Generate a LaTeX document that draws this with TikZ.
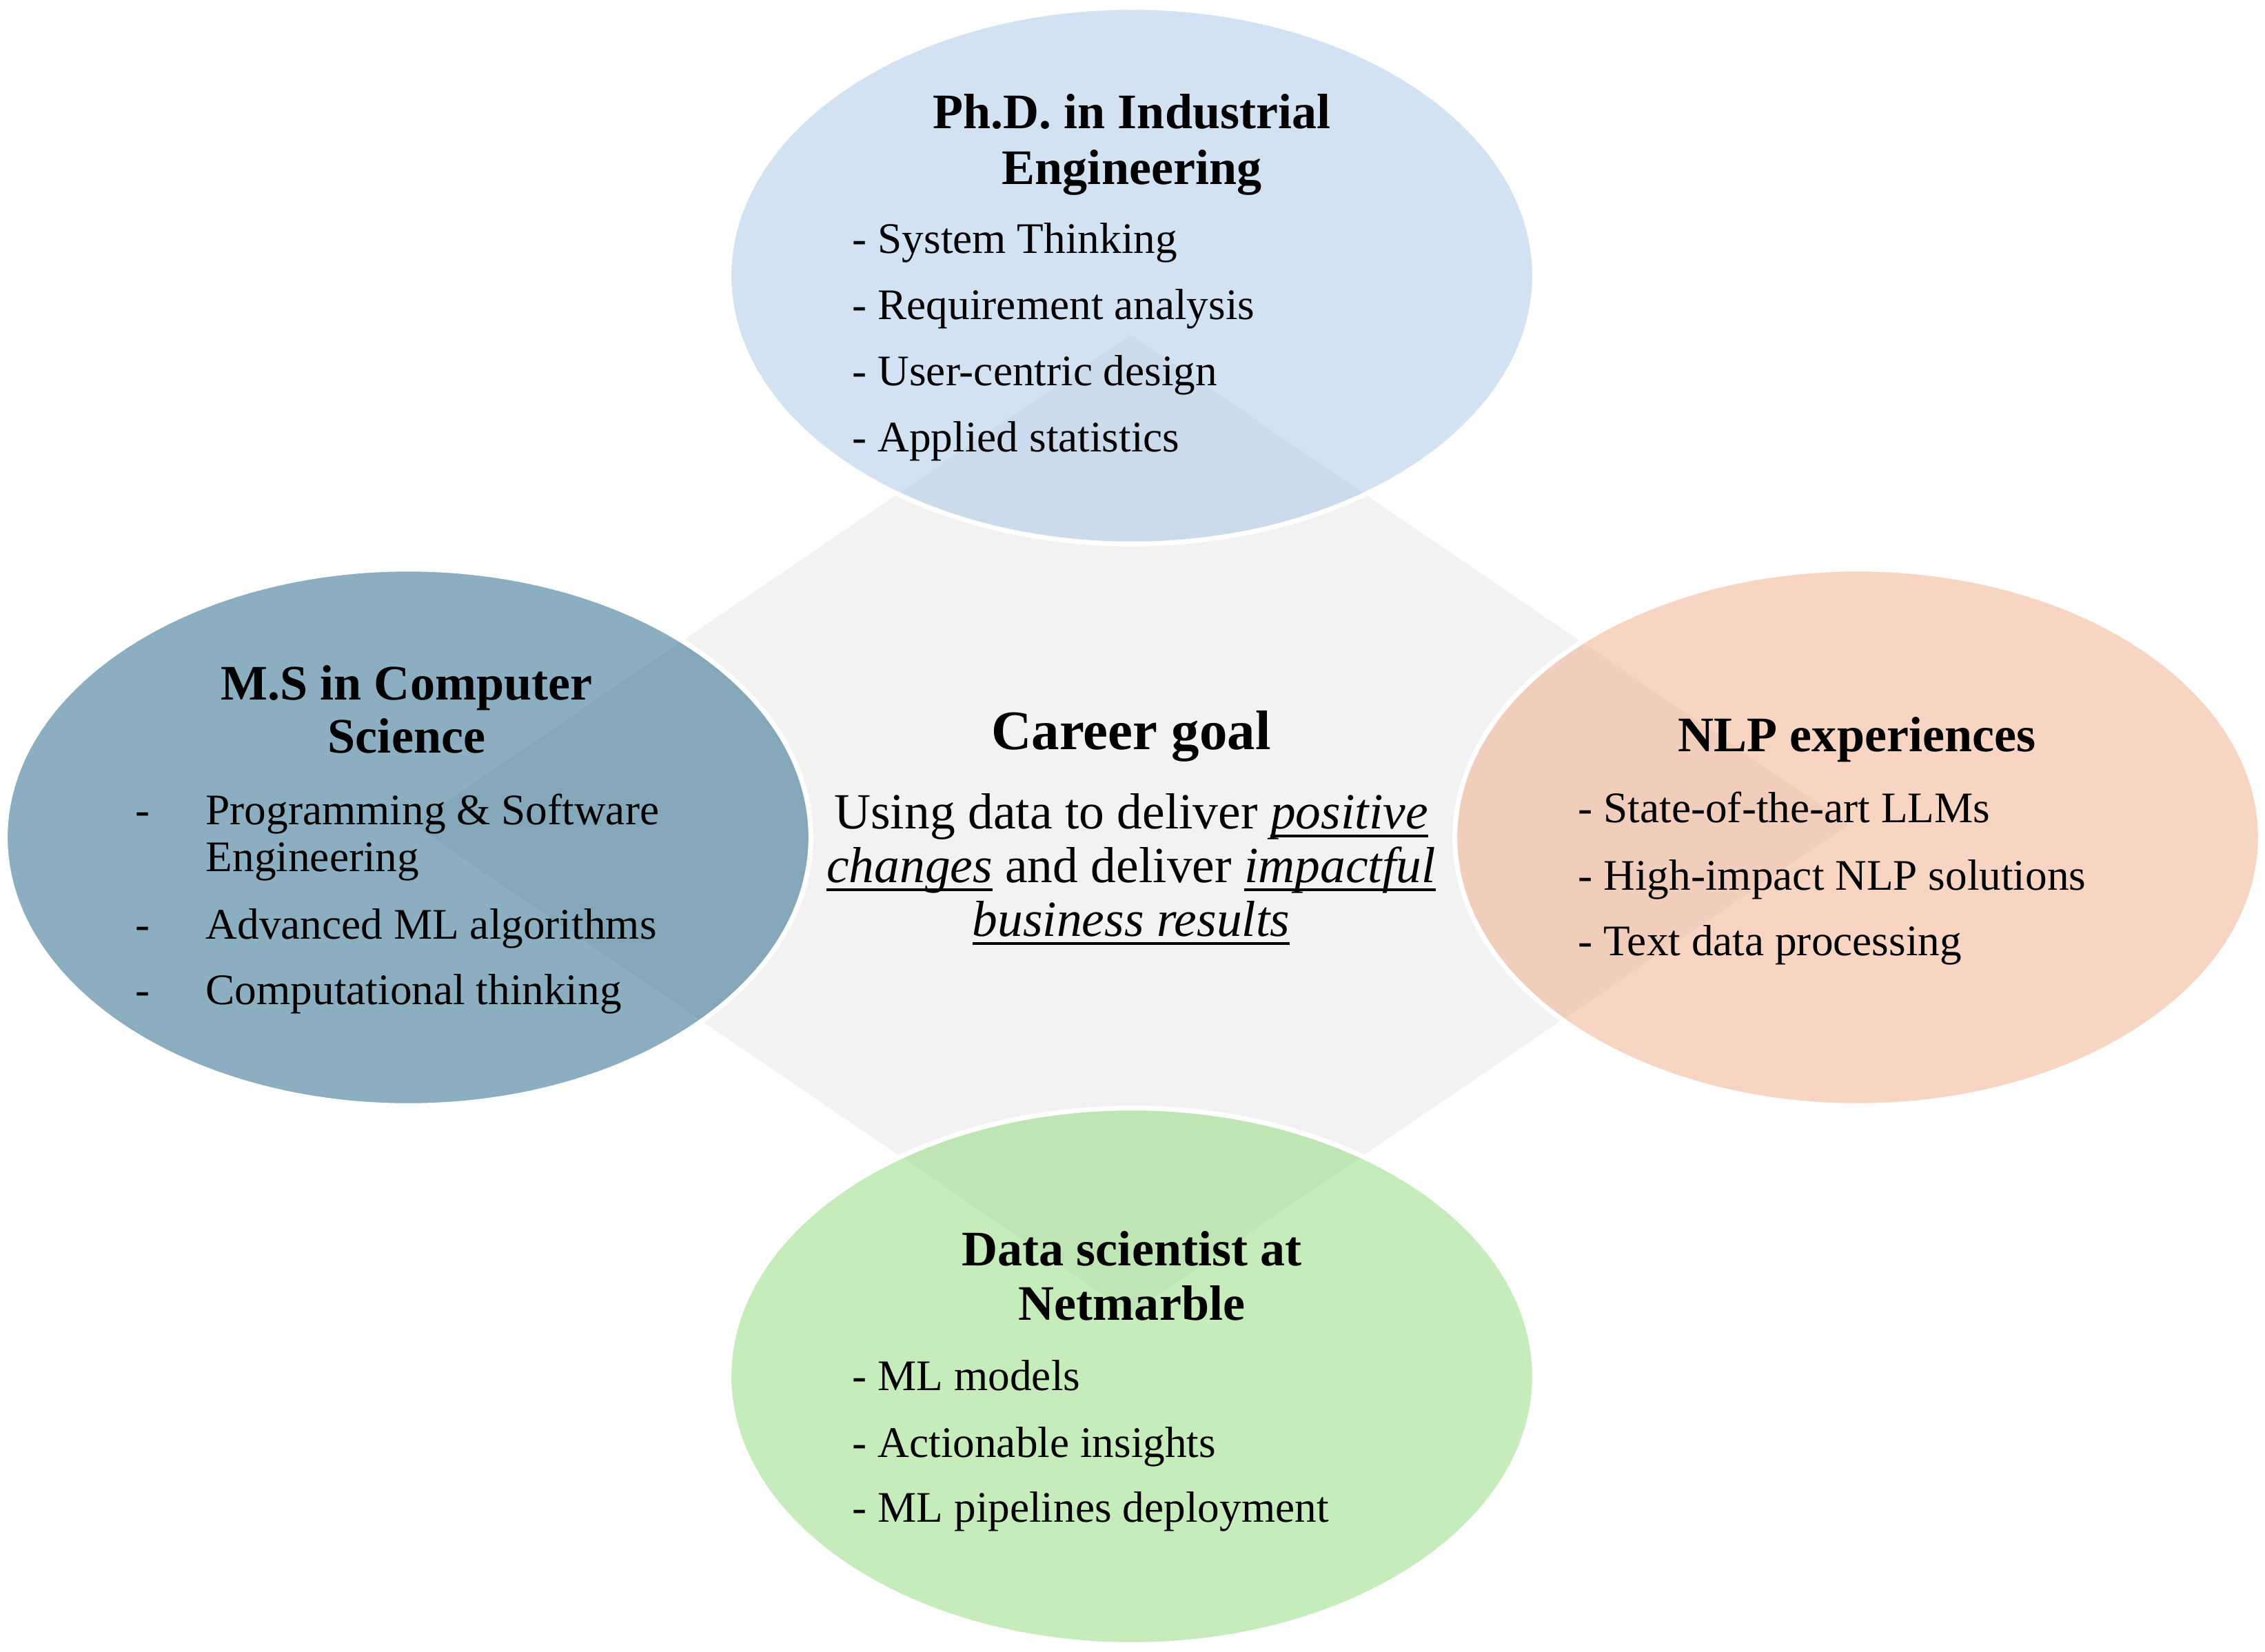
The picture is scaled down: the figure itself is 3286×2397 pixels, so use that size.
\documentclass[tikz,border=0pt]{standalone}
\usepackage{fontspec}
\setmainfont{Liberation Serif}
\usetikzlibrary{shapes.geometric}

\definecolor{hubgray}{HTML}{F2F2F2}
\definecolor{phdblue}{RGB}{167,197,231}
\definecolor{msteal}{RGB}{23,95,131}
\definecolor{nlppeach}{RGB}{239,171,133}
\definecolor{dsgreen}{RGB}{143,217,121}

% italic word with a rule set at a fixed depth below the baseline
\newcommand\ulitword[1]{\setbox0\hbox{\itshape #1}\rlap{\rule[-0.125cm]{\wd0}{0.035cm}}\box0\relax}

\tikzset{
  bubble/.style={ellipse, draw=white, line width=0.07cm, fill opacity=0.5,
    minimum width=11.68cm, minimum height=7.78cm, inner sep=0pt},
  headtxt/.style={anchor=base, inner sep=0pt, font=\fontsize{20.5}{24}\selectfont\bfseries},
  itemtxt/.style={anchor=base west, inner sep=0pt, font=\fontsize{18}{21}\selectfont},
  goalhead/.style={anchor=base, inner sep=0pt, font=\fontsize{23}{27}\selectfont\bfseries},
  goaltxt/.style={anchor=base, inner sep=0pt, font=\fontsize{20.9}{24}\selectfont},
}

\begin{document}
\begin{tikzpicture}[x=0.01cm, y=-0.01cm]
\useasboundingbox (0,0) rectangle (3286,2397);

% central diamond
\node[diamond, fill=hubgray, inner sep=0pt, minimum width=20.82cm, minimum height=14.2cm] (hub) at (1641,1196) {};

% four translucent bubbles
\node[bubble, fill=phdblue]  (phd) at (1642,400)  {};
\node[bubble, fill=msteal]   (ms)  at (592,1215)  {};
\node[bubble, fill=nlppeach] (nlp) at (2695,1215) {};
\node[bubble, fill=dsgreen]  (ds)  at (1642,1997) {};

% top bubble
\node[headtxt] (phdh1) at (1642,187) {Ph.D. in Industrial};
\node[headtxt] (phdh2) at (1642,268) {Engineering};
\node[itemtxt] (phdi1) at (1236,367) {- System Thinking};
\node[itemtxt] (phdi2) at (1236,463) {- Requirement analysis};
\node[itemtxt] (phdi3) at (1236,559) {- User-centric design};
\node[itemtxt] (phdi4) at (1236,656) {- Applied statistics};

% left bubble
\node[headtxt] (msh1) at (590,1015) {M.S in Computer};
\node[headtxt] (msh2) at (590,1092) {Science};
\node[itemtxt] (msd1) at (196,1196) {-};
\node[itemtxt] (msi1) at (298,1196) {Programming \& Software};
\node[itemtxt] (msi1b) at (298,1264) {Engineering};
\node[itemtxt] (msd2) at (196,1362) {-};
\node[itemtxt] (msi2) at (298,1362) {Advanced ML algorithms};
\node[itemtxt] (msd3) at (196,1457) {-};
\node[itemtxt] (msi3) at (298,1457) {Computational thinking};

% right bubble
\node[headtxt] (nlph) at (2694,1090) {NLP experiences};
\node[itemtxt] (nlpi1) at (2289,1193) {- State-of-the-art LLMs};
\node[itemtxt] (nlpi2) at (2289,1291) {- High-impact NLP solutions};
\node[itemtxt] (nlpi3) at (2289,1386) {- Text data processing};

% bottom bubble
\node[headtxt] (dsh1) at (1642,1836) {Data scientist at};
\node[headtxt] (dsh2) at (1642,1915) {Netmarble};
\node[itemtxt] (dsi1) at (1236,2017) {- ML models};
\node[itemtxt] (dsi2) at (1236,2114) {- Actionable insights};
\node[itemtxt] (dsi3) at (1236,2208) {- ML pipelines deployment};

% centre
\node[goalhead] (goal) at (1641,1087) {Career goal};
\node[goaltxt] (goal1) at (1641,1202) {Using data to deliver \ulitword{positive}};
\node[goaltxt] (goal2) at (1641,1280) {\ulitword{changes} and deliver \ulitword{impactful}};
\node[goaltxt] (goal3) at (1641,1358) {\ulitword{business results}};
\end{tikzpicture}
\end{document}
